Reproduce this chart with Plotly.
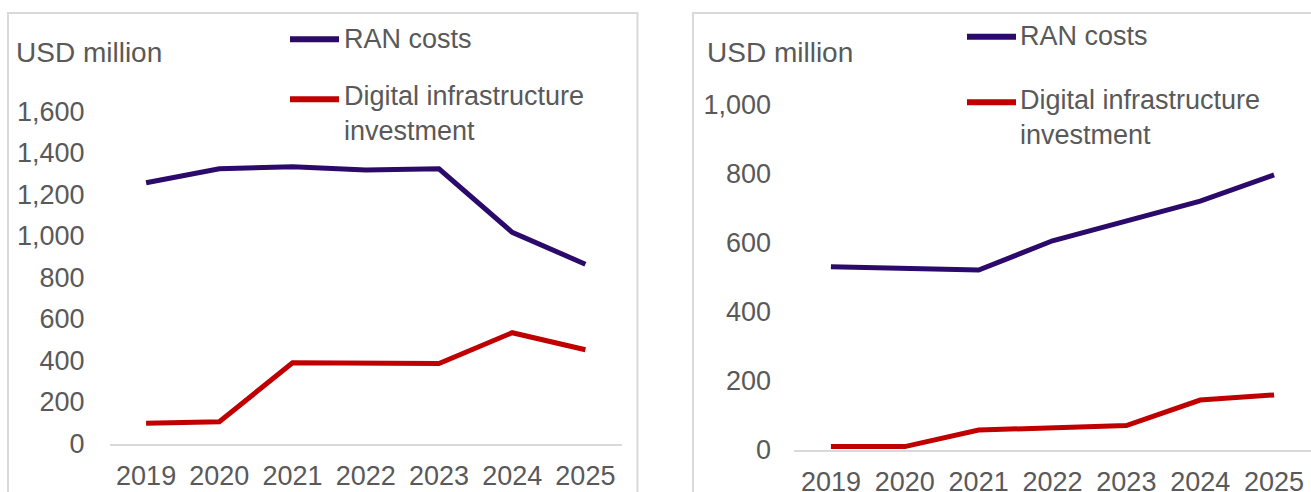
import plotly.graph_objects as go

# Data (USD million)
years = ["2019", "2020", "2021", "2022", "2023", "2024", "2025"]

left_ran_costs = [1257, 1324, 1334, 1318, 1324, 1018, 864]
left_digital_infra = [97, 105, 389, 385, 385, 534, 452]

right_ran_costs = [531, 526, 521, 606, 663, 721, 797]
right_digital_infra = [9, 9, 57, 64, 70, 144, 159]

left_yticks = [0, 200, 400, 600, 800, 1000, 1200, 1400, 1600]
right_yticks = [0, 200, 400, 600, 800, 1000]

series_names = ["RAN costs", "Digital infrastructure<br>investment"]
series_colors = ["#2B0A6B", "#C00000"]

W, H = 1311, 492
FAMILY = "Liberation Sans, Arial, sans-serif"
TICK_FONT = dict(family=FAMILY, size=27, color="#595959")
TEXT_FONT = dict(family=FAMILY, size=27, color="#595959")
UNIT_FONT = dict(family=FAMILY, size=28, color="#595959")
GRID = "#D9D9D9"


def px_x(p):
    return p / W


def px_y(p):
    return (H - p) / H


fig = go.Figure()

for name, color, ys in zip(series_names, series_colors, [left_ran_costs, left_digital_infra]):
    fig.add_trace(go.Scatter(x=years, y=ys, name=name, mode="lines",
                             line=dict(color=color, width=5),
                             xaxis="x", yaxis="y", showlegend=False, cliponaxis=False))
for name, color, ys in zip(series_names, series_colors, [right_ran_costs, right_digital_infra]):
    fig.add_trace(go.Scatter(x=years, y=ys, name=name, mode="lines",
                             line=dict(color=color, width=5),
                             xaxis="x2", yaxis="y2", showlegend=False, cliponaxis=False))

xcommon = dict(type="category", range=[-0.5, 6.5], showline=True, linecolor=GRID,
               linewidth=2, showgrid=False, zeroline=False, ticks="", automargin=False,
               tickfont=TICK_FONT, ticklabelstandoff=7)
ycommon = dict(showline=False, showgrid=False, zeroline=False, ticks="", automargin=False,
               tickfont=TICK_FONT, tickformat=",d")

fig.update_layout(
    width=W, height=H,
    margin=dict(l=0, r=0, t=0, b=0),
    paper_bgcolor="white", plot_bgcolor="white",
    font=TICK_FONT,
    xaxis=dict(domain=[px_x(109.5), px_x(622)], anchor="y", **xcommon),
    yaxis=dict(domain=[px_y(443.5), px_y(90.75)], range=[0, 1700], anchor="x",
               tickvals=left_yticks, ticklabelstandoff=24, **ycommon),
    xaxis2=dict(domain=[px_x(794), 1.0], anchor="y2", **xcommon),
    yaxis2=dict(domain=[px_y(449.7), px_y(70.5)], range=[0, 1100], anchor="x2",
                tickvals=right_yticks, ticklabelstandoff=22, **ycommon),
)

shapes = []
annotations = []

# Panel frames
shapes.append(dict(type="rect", xref="paper", yref="paper",
                   x0=px_x(8), x1=px_x(637.5), y0=-0.1, y1=px_y(13),
                   line=dict(color=GRID, width=2), layer="below"))
shapes.append(dict(type="rect", xref="paper", yref="paper",
                   x0=px_x(693), x1=1.1, y0=-0.1, y1=px_y(13),
                   line=dict(color=GRID, width=2), layer="below"))

# Unit labels
for x in (14, 705):
    annotations.append(dict(text="USD million", xref="paper", yref="paper",
                            x=px_x(x), y=px_y(52), xanchor="left", yanchor="middle",
                            showarrow=False, font=UNIT_FONT))

# Legends: (key x-start, key x-end, text x, key y per series, text y per series)
legend_specs = [
    (290, 339, 342, [39.3, 99.3], [39, 114]),
    (967, 1016, 1018, [36.7, 102.3], [36, 117]),
]
for kx0, kx1, tx, key_ys, text_ys in legend_specs:
    for name, color, ky, ty in zip(series_names, series_colors, key_ys, text_ys):
        shapes.append(dict(type="line", xref="paper", yref="paper",
                           x0=px_x(kx0), x1=px_x(kx1), y0=px_y(ky), y1=px_y(ky),
                           line=dict(color=color, width=6)))
        annotations.append(dict(text=name, xref="paper", yref="paper",
                                x=px_x(tx), y=px_y(ty), xanchor="left", yanchor="middle",
                                align="left", showarrow=False, font=TEXT_FONT))

fig.update_layout(shapes=shapes, annotations=annotations)

fig.write_html("out.html")
